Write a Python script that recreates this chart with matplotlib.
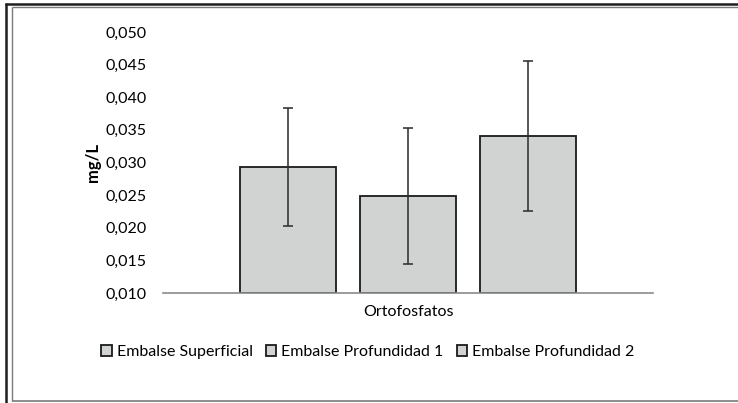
import matplotlib
matplotlib.use("Agg")
import matplotlib.pyplot as plt
from matplotlib.lines import Line2D

plt.rcParams['font.family'] = ['Lato', 'DejaVu Sans']

# datos
categoria = ["Ortofosfatos"]
series = ["Embalse Superficial", "Embalse Profundidad 1", "Embalse Profundidad 2"]
medias = [0.0293, 0.0249, 0.0341]
desv = [0.0091, 0.0104, 0.0115]
yticks = [0.010, 0.015, 0.020, 0.025, 0.030, 0.035, 0.040, 0.045, 0.050]

W, H = 738, 403
fig = plt.figure(figsize=(W / 100, H / 100), dpi=100)
ax = fig.add_axes([163 / W, 1 - 293 / H, 490 / W, 261 / H])

offsets = [-0.244, 0.0, 0.244]
for nombre, m, e, off in zip(series, medias, desv, offsets):
    ax.bar(0 + off, m - 0.010, width=0.196, bottom=0.010, color="#d1d3d3",
           edgecolor="#1a1a1a", linewidth=1.3, label=nombre,
           yerr=e, error_kw=dict(ecolor="#2a2a2a", elinewidth=1.1, capsize=3.5, capthick=1.1))

ax.set_xlim(-0.5, 0.5)
ax.set_ylim(0.010, 0.050)
ax.set_yticks(yticks)
ax.set_yticklabels([f"{v:.3f}".replace(".", ",") for v in yticks], fontsize=11.5)
ax.set_xticks([0])
ax.set_xticklabels(categoria, fontsize=11.5)
ax.tick_params(axis="y", length=0, pad=12)
ax.tick_params(axis="x", length=0, pad=9)
for s in ["top", "right", "left"]:
    ax.spines[s].set_visible(False)
ax.spines["bottom"].set_color("#8a8a8a")
ax.spines["bottom"].set_linewidth(1.2)
ax.set_ylabel("mg/L", fontsize=12, fontweight="bold", labelpad=3)

fig.legend(loc="center", bbox_to_anchor=(368 / W, 1 - 352 / H), ncol=3, frameon=False,
           fontsize=11.5, handlelength=0.65, handleheight=0.65, handletextpad=0.3,
           columnspacing=0.85)

# marco doble del recuadro
def px_line(x0, y0, x1, y1, color, lw):
    fig.add_artist(Line2D([x0 / W, x1 / W], [1 - y0 / H, 1 - y1 / H],
                          transform=fig.transFigure, color=color, linewidth=lw,
                          solid_capstyle="butt"))

px_line(5, 3.5, W, 3.5, "#1e1e1e", 1.8)
px_line(5.5, 3, 5.5, H, "#1e1e1e", 1.8)
px_line(11.5, 6.5, W, 6.5, "#7a7a7a", 1.0)
px_line(11.5, 6.5, 11.5, 401, "#7a7a7a", 1.0)
px_line(11.5, 401, W, 401, "#7a7a7a", 1.2)

fig.savefig("out.png", dpi=100)
